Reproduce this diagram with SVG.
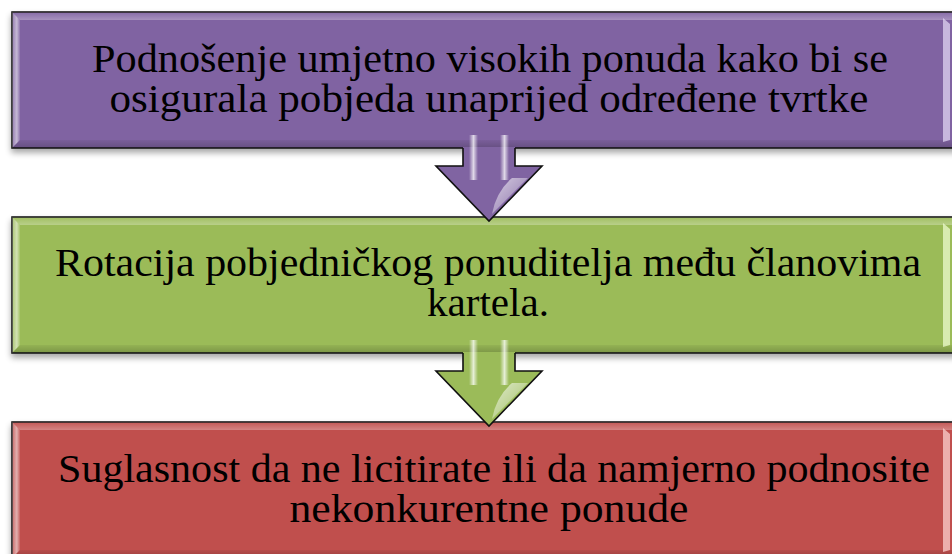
<svg xmlns="http://www.w3.org/2000/svg" width="952" height="554" viewBox="0 0 952 554">
<style>
.box{stroke:#1a1a1a;stroke-width:1.6}
.txt{font-family:"Liberation Serif","DejaVu Serif",serif;font-size:39px;fill:#000;text-anchor:middle}
.aout{fill:none;stroke:#111;stroke-width:1.6;stroke-linejoin:miter}
</style>
<defs>
<filter id="sh" x="-5%" y="-20%" width="110%" height="150%">
<feGaussianBlur in="SourceAlpha" stdDeviation="3"/>
<feOffset dx="0" dy="4"/>
<feComponentTransfer><feFuncA type="linear" slope="0.35"/></feComponentTransfer>
<feMerge><feMergeNode/><feMergeNode in="SourceGraphic"/></feMerge>
</filter>
<linearGradient id="bevL" x1="0" y1="0" x2="1" y2="0">
<stop offset="0" stop-color="#fff" stop-opacity="0.15"/>
<stop offset="0.6" stop-color="#fff" stop-opacity="0.55"/>
<stop offset="1" stop-color="#fff" stop-opacity="0.1"/>
</linearGradient>
<linearGradient id="bevT" x1="0" y1="0" x2="0" y2="1">
<stop offset="0" stop-color="#fff" stop-opacity="0.05"/>
<stop offset="1" stop-color="#fff" stop-opacity="0.3"/>
</linearGradient>
<linearGradient id="bevB" x1="0" y1="0" x2="0" y2="1">
<stop offset="0" stop-color="#000" stop-opacity="0.05"/>
<stop offset="1" stop-color="#000" stop-opacity="0.2"/>
</linearGradient>
<linearGradient id="strip" x1="0" y1="0" x2="1" y2="0">
<stop offset="0" stop-color="#fff" stop-opacity="0"/>
<stop offset="0.5" stop-color="#fff" stop-opacity="0.75"/>
<stop offset="1" stop-color="#fff" stop-opacity="0"/>
</linearGradient>
<linearGradient id="gloss" x1="0" y1="0" x2="1" y2="1">
<stop offset="0" stop-color="#fff" stop-opacity="0.7"/>
<stop offset="1" stop-color="#fff" stop-opacity="0.05"/>
</linearGradient>
<g id="bevel">
<path d="M0,0 L8,8 L8,128 L0,136 Z" fill="url(#bevL)"/>
<path d="M0,0 L956,0 L948,8 L8,8 Z" fill="url(#bevT)"/>
<path d="M0,136 L8,128 L948,128 L956,136 Z" fill="url(#bevB)"/>
</g>
</defs>

<g id="node1">
<rect class="box" x="12" y="12" width="956" height="136" fill="#8064A2" filter="url(#sh)"/>
<use href="#bevel" x="12" y="12"/>
<path d="M943,18 L950,24 L950,140 L943,142 Z" fill="#e6dcf7" opacity="0.7"/>
<text class="txt" x="490" y="72" textLength="796" lengthAdjust="spacingAndGlyphs">Podnošenje umjetno visokih ponuda kako bi se</text>
<text class="txt" x="489" y="112" textLength="759" lengthAdjust="spacingAndGlyphs">osigurala pobjeda unaprijed određene tvrtke</text>
</g>

<g id="node2">
<rect class="box" x="12" y="217" width="956" height="136" fill="#9BBB59" filter="url(#sh)"/>
<use href="#bevel" x="12" y="217"/>
<path d="M943,223 L950,229 L950,345 L943,347 Z" fill="#f2ffd6" opacity="0.7"/>
<text class="txt" x="488" y="276" textLength="866" lengthAdjust="spacingAndGlyphs">Rotacija pobjedničkog ponuditelja među članovima</text>
<text class="txt" x="488" y="316" textLength="122" lengthAdjust="spacingAndGlyphs">kartela.</text>
</g>

<g id="node3">
<rect class="box" x="12" y="422" width="956" height="136" fill="#C0504D" filter="url(#sh)"/>
<use href="#bevel" x="12" y="422"/>
<path d="M943,428 L950,434 L950,550 L943,552 Z" fill="#ffd9d6" opacity="0.7"/>
<text class="txt" x="494" y="482" textLength="872" lengthAdjust="spacingAndGlyphs">Suglasnost da ne licitirate ili da namjerno podnosite</text>
<text class="txt" x="489" y="522" textLength="399" lengthAdjust="spacingAndGlyphs">nekonkurentne ponude</text>
</g>

<g id="connectors">
<g id="arrow1">
<polygon points="463,147 463,166 436,166 489,221 542,166 515,166 515,147" fill="#8064A2"/>
<rect x="469" y="135" width="9" height="45" fill="url(#strip)"/>
<rect x="500" y="135" width="9" height="45" fill="url(#strip)"/>
<path d="M512,178 L528,178 L492,214 Q496,192 512,178 Z" fill="url(#gloss)"/>
<polyline class="aout" points="463,148 463,166 436,166 489,221 542,166 515,166 515,148"/>
</g>
<g id="arrow2">
<polygon points="463,352 463,371 436,371 489,426 542,371 515,371 515,352" fill="#9BBB59"/>
<rect x="469" y="340" width="9" height="45" fill="url(#strip)"/>
<rect x="500" y="340" width="9" height="45" fill="url(#strip)"/>
<path d="M512,383 L528,383 L492,419 Q496,397 512,383 Z" fill="url(#gloss)"/>
<polyline class="aout" points="463,353 463,371 436,371 489,426 542,371 515,371 515,353"/>
</g>
</g>
</svg>
